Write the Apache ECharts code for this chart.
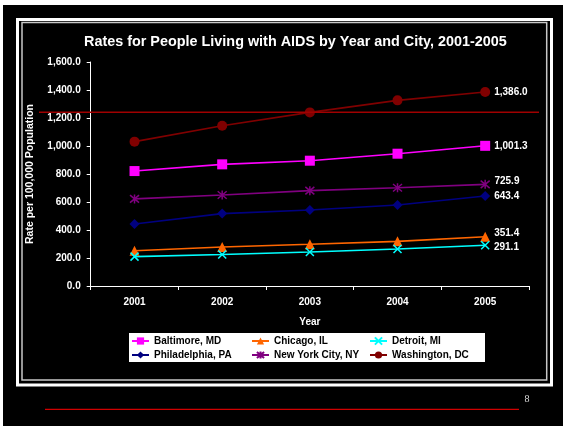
<!DOCTYPE html>
<html><head><meta charset="utf-8">
<script src="https://cdn.jsdelivr.net/npm/echarts@6/dist/echarts.min.js"></script>
<style>html,body{margin:0;padding:0;background:#000;}#c{width:563px;height:426px;}</style>
</head><body><div id="c"></div>
<script>
const years = ['2001','2002','2003','2004','2005'];
const baltimore = [821, 869, 895, 945, 1001.3];
const chicago = [252, 279, 298, 319, 351.4];
const detroit = [210, 225, 243, 264, 291.1];
const philadelphia = [443, 517, 543, 579, 643.4];
const newYork = [622, 650, 681, 702, 725.9];
const washington = [1031, 1145, 1240, 1326, 1386.0];
const yTicks = [0, 200, 400, 600, 800, 1000, 1200, 1400, 1600];
const legendRows = [['Baltimore, MD', 'Chicago, IL', 'Detroit, MI'], ['Philadelphia, PA', 'New York City, NY', 'Washington, DC']];

const fmt = v => Number(v).toLocaleString('en-US', {minimumFractionDigits: 1, maximumFractionDigits: 1});
const FONT = '"Liberation Sans", Arial, sans-serif';

function mk(name, vals, color, symbol, size, labelOffset, strokeSym) {
  const last = vals.length - 1;
  return {
    name, type: 'line', symbol, symbolSize: size,
    data: vals.map((v, i) => i === last ? {value: v, label: {show: true}} : v),
    lineStyle: {color, width: 1.6},
    itemStyle: strokeSym ? {color, borderColor: color, borderWidth: 1.5} : {color, borderWidth: 0},
    label: {show: false, position: 'right', distance: 4, color: '#fff', fontWeight: 'bold', fontSize: 10,
      fontFamily: FONT, offset: labelOffset, formatter: p => fmt(p.value)},
    emphasis: {disabled: true}, animation: false, z: 3
  };
}
const X_PATH = 'path://M0,0L10,10M10,0L0,10';
const STAR_PATH = 'path://M0,0L10,10M10,0L0,10M5,-1L5,11';

const colLeft = [131, 251, 369];
const rowTop = [336, 350];
const legends = [];
legendRows.forEach((row, r) => row.forEach((nm, c) => {
  legends.push({
    left: colLeft[c], top: rowTop[r], data: [nm], itemWidth: 17, itemHeight: 9, padding: 0,
    textStyle: {color: '#000', fontWeight: 'bold', fontSize: 10, fontFamily: FONT},
    selectedMode: false
  });
}));

const chart = echarts.init(document.getElementById('c'));
chart.setOption({
  backgroundColor: '#000',
  animation: false,
  title: {text: 'Rates for People Living with AIDS by Year and City, 2001-2005', left: 84, top: 35, padding: 0,
    textStyle: {color: '#fff', fontWeight: 'bold', fontSize: 14.4, fontFamily: FONT}},
  graphic: [
    {type: 'rect', shape: {x: 0, y: 0, width: 563, height: 5}, style: {fill: '#fff'}, silent: true},
    {type: 'rect', shape: {x: 0, y: 0, width: 3, height: 426}, style: {fill: '#fff'}, silent: true},
    {type: 'rect', shape: {x: 17.5, y: 19.5, width: 534, height: 365.5}, style: {fill: 'none', stroke: '#fff', lineWidth: 3}, silent: true},
    {type: 'rect', shape: {x: 22, y: 22.5, width: 524.7, height: 357.5}, style: {fill: 'none', stroke: '#c8c8c8', lineWidth: 1.5}, silent: true},
    {type: 'rect', shape: {x: 39, y: 111.5, width: 500, height: 1.4}, style: {fill: '#a00000'}, z: 10, silent: true},
    {type: 'rect', shape: {x: 45, y: 408.8, width: 474, height: 1.3}, style: {fill: '#d00000'}, silent: true},
    {type: 'text', x: 527, y: 399, style: {text: '8', fill: '#ddd', font: '10px "Liberation Serif", serif', textAlign: 'center', textVerticalAlign: 'middle'}, silent: true},
    {type: 'rect', shape: {x: 129, y: 333, width: 356, height: 29}, style: {fill: '#fff'}, z: 1, silent: true}
  ],
  legend: legends,
  grid: {left: 90.7, right: 34, top: 62, bottom: 140, containLabel: false},
  xAxis: {
    type: 'category', data: years, boundaryGap: true,
    name: 'Year', nameLocation: 'middle', nameGap: 31,
    nameTextStyle: {color: '#fff', fontWeight: 'bold', fontSize: 10, fontFamily: FONT},
    axisLine: {lineStyle: {color: '#fff', width: 1}},
    axisTick: {show: true, length: 4, inside: false, lineStyle: {color: '#fff'}},
    axisLabel: {color: '#fff', fontWeight: 'bold', fontSize: 10, fontFamily: FONT, margin: 11},
    splitLine: {show: false}
  },
  yAxis: {
    type: 'value', min: 0, max: 1600, interval: 200,
    name: 'Rate per 100,000 Population', nameLocation: 'middle', nameGap: 55, nameRotate: 90,
    nameTextStyle: {color: '#fff', fontWeight: 'bold', fontSize: 10.5, fontFamily: FONT},
    axisLine: {show: true, lineStyle: {color: '#fff', width: 1}},
    axisTick: {show: true, length: 4, lineStyle: {color: '#fff'}},
    axisLabel: {color: '#fff', fontWeight: 'bold', fontSize: 10, fontFamily: FONT, margin: 10,
      formatter: v => yTicks.includes(v) ? fmt(v) : ''},
    splitLine: {show: false}
  },
  series: [
    mk('Baltimore, MD', baltimore, '#ff00ff', 'rect', 10, [0, 0], false),
    mk('Chicago, IL', chicago, '#ff6600', 'triangle', 10, [0, -4], false),
    mk('Detroit, MI', detroit, '#00ffff', X_PATH, 8, [0, 2], true),
    mk('Philadelphia, PA', philadelphia, '#000080', 'diamond', 10, [0, 0], false),
    mk('New York City, NY', newYork, '#800080', STAR_PATH, 9, [0, -3], true),
    mk('Washington, DC', washington, '#800000', 'circle', 10, [0, 0], false)
  ]
});
</script></body></html>
